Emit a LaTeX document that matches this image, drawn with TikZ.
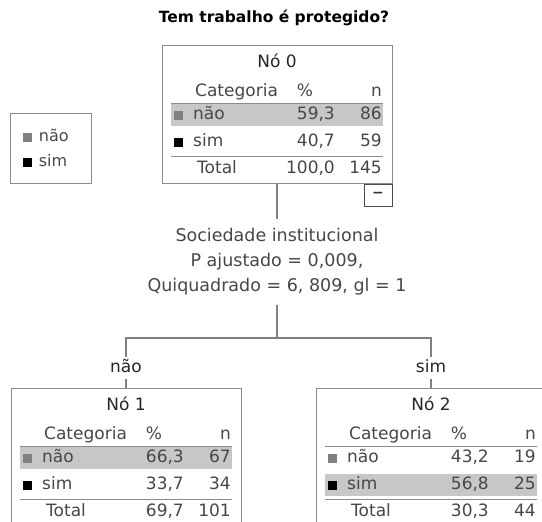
\documentclass[tikz,border=0pt]{standalone}
\usepackage{fontspec}
\setmainfont{DejaVu Sans}
\usetikzlibrary{positioning}

\begin{document}
\begin{tikzpicture}[x=1pt,y=-1pt,
    txt/.style={inner sep=0pt,text height=12pt,text depth=3pt,text=black!72,
        font=\fontsize{17}{20}\selectfont},
    boxline/.style={draw=black!45,line width=1pt},
    treebox/.style={boxline,fill=white,minimum width=230pt,minimum height=138pt,inner sep=0pt},
    legbox/.style={boxline,minimum width=81pt,minimum height=70pt,inner sep=0pt},
    swatch/.style={minimum size=9pt,inner sep=0pt},
    sepline/.style={draw=black!45,line width=1pt},
    link/.style={draw=black!50,line width=1.5pt}]
\useasboundingbox (0,0) rectangle (542,522);
\def\bandcolor{black!22}

\node[font=\bfseries\fontsize{15.5}{18}\selectfont] (title) at (274,18) {Tem trabalho é protegido?};

\node[legbox] (legend) at (50.5,148) {};
\node[swatch,fill=black!50] (leg1) at (27,137) {};
\node[txt,font=\fontsize{16}{19}\selectfont,right=7pt of leg1] (leg1txt) {não};
\node[swatch,fill=black] (leg2) at (27,162) {};
\node[txt,font=\fontsize{16}{19}\selectfont,right=7pt of leg2] (leg2txt) {sim};

\foreach \nm/\cx/\ty/\lbl/\pa/\na/\pb/\nb/\pt/\nt/\hb in {
    n0/277/45/Nó 0/{59,3}/86/{40,7}/59/{100,0}/145/0,
    n1/126/388/Nó 1/{66,3}/67/{33,7}/34/{69,7}/101/0,
    n2/431/388/Nó 2/{43,2}/19/{56,8}/25/{30,3}/44/27}{
  \begin{scope}[shift={(\cx,\ty)}]
    \node[treebox] (\nm) at (0,69) {};
    \fill[\bandcolor] (-106,{59+\hb}) rectangle (106,{81+\hb});
    \node[txt,text=black!85] (\nm-title) at (0,18) {\lbl};
    \node[txt,anchor=west] (\nm-cat) at (-82,47) {Categoria};
    \node[txt] (\nm-pcthd) at (28,47) {\%};
    \node[txt,anchor=east] (\nm-nhd) at (105,47) {n};
    \draw[sepline] (-106,58) -- (106,58);
    \node[swatch,fill=black!50] (\nm-sqa) at (-99,70) {};
    \node[txt,anchor=west] (\nm-cata) at (-84,70) {não};
    \node[txt,anchor=east] (\nm-pa) at (58,70) {\pa};
    \node[txt,anchor=east] (\nm-na) at (105,70) {\na};
    \node[swatch,fill=black] (\nm-sqb) at (-99,97) {};
    \node[txt,anchor=west] (\nm-catb) at (-84,97) {sim};
    \node[txt,anchor=east] (\nm-pb) at (58,97) {\pb};
    \node[txt,anchor=east] (\nm-nb) at (105,97) {\nb};
    \draw[sepline] (-106,111) -- (106,111);
    \node[txt,anchor=west] (\nm-tot) at (-80,124) {Total};
    \node[txt,anchor=east] (\nm-pt) at (58,124) {\pt};
    \node[txt,anchor=east] (\nm-nt) at (105,124) {\nt};
  \end{scope}
}

\node[boxline,draw=black!70,minimum width=28pt,minimum height=22pt,inner sep=0pt,
    anchor=north east,font=\bfseries\fontsize{14}{16}\selectfont,text=black!80] (n0btn) at (n0.south east) {−};

\node[align=center,inner sep=9pt,text=black!72,font=\fontsize{17.5}{25}\selectfont] (split) at (277,262)
    {Sociedade institucional\\P ajustado = 0,009,\\Quiquadrado = 6, 809, gl = 1};
\coordinate (fork) at (277,338);
\node[txt,text=black!85,inner sep=3pt] (lbl1) at (126,368) {não};
\node[txt,text=black!85,inner sep=3pt] (lbl2) at (431,368) {sim};

\draw[link] (n0.south) -- (split.north);
\draw[link] (split.south) -- (fork);
\draw[link] (fork) -| (lbl1.north);
\draw[link] (fork) -| (lbl2.north);
\draw[link] (lbl1.south) -- (n1.north);
\draw[link] (lbl2.south) -- (n2.north);
\end{tikzpicture}
\end{document}
